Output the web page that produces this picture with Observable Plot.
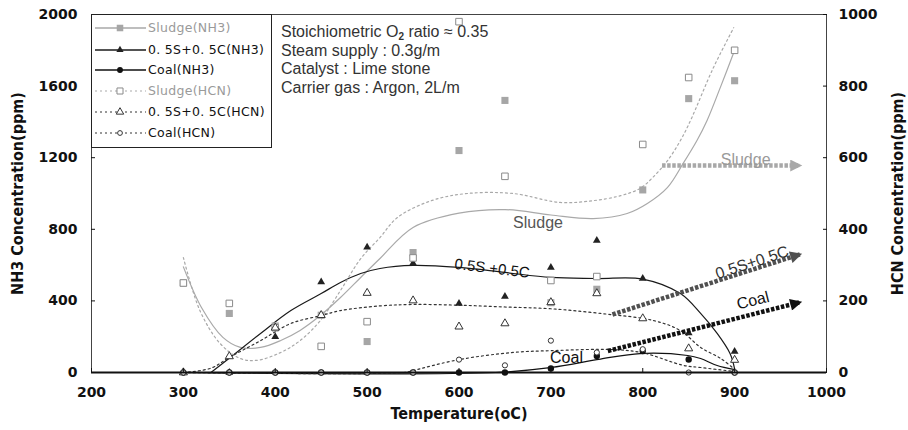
<!DOCTYPE html>
<html><head><meta charset="utf-8">
<script src="https://cdn.jsdelivr.net/npm/d3@7"></script>
<script src="https://cdn.jsdelivr.net/npm/@observablehq/plot@0.6"></script>
<style>
body{margin:0;background:#fff;}
#wrap{position:relative;width:908px;height:430px;overflow:hidden;}
#legend{position:absolute;left:91px;top:14px;width:181px;height:134px;border:1px solid #222;background:#fff;box-sizing:border-box;font-family:"DejaVu Sans",sans-serif;font-size:12.5px;letter-spacing:0.3px;}
#legend .row{position:absolute;left:0;height:16px;line-height:16px;white-space:nowrap;}
#legend .row svg{position:absolute;left:2px;top:0;}
#legend .row span{position:absolute;left:56px;top:0;}
#note{position:absolute;left:281px;top:23px;font-family:"Liberation Sans",Arial,sans-serif;font-size:16px;line-height:18.7px;color:#333;white-space:nowrap;}
#note sub{font-size:10px;line-height:0;vertical-align:-3px;font-weight:bold;}
g[aria-label="x-axis tick label"], g[aria-label="y-axis tick label"]{font:bold 14px "DejaVu Sans",sans-serif;fill:#111;}
g[aria-label="x-axis label"], g[aria-label="y-axis label"]{font-family:"DejaVu Sans Condensed","Liberation Sans Narrow","DejaVu Sans",sans-serif;font-stretch:condensed;font-weight:bold;font-size:16px;fill:#111;}
</style></head><body><div id="wrap"></div>
<script>
// ---- measured points ----
const temps = [300,350,400,450,500,550,600,650,700,750,800,850,900];
const sludgeNH3 = [500,330,260,320,173,670,1240,1520,390,465,1020,1530,1630];
const blendNH3  = [0,0,200,505,700,610,385,425,587,737,525,220,117];
const coalNH3   = [0,0,0,0,0,0,0,0,22,92,120,73,0];
const sludgeHCN = [250,193,125,73,142,320,980,548,257,268,637,824,900];
const blendHCN  = [0,45,125,160,222,201,128,137,196,221,151,67,35];
const coalHCN   = [0,0,0,0,0,0,36,20,89,56,65,0,0];

// ---- trend curves ----
const sludgeNH3FitT = [300,320,343,362,384,406,427,449,471,493,514,550,600,650,700,746,783,805,827,844,859,870,885,900];
const sludgeNH3FitV = [590,360,196,140,140,179,235,318,419,531,637,810,890,910,880,860,888,944,1034,1168,1296,1408,1600,1800];
const sludgeHCNFitT = [300,318,340,362,380,406,427,449,471,493,514,533,570,609,659,710,746,776,797,811,827,841,852,877,899];
const sludgeHCNFitV = [321,173,81,39,34,56,89,145,229,318,377,433,480,500,500,475,480,494,514,545,592,648,704,852,963];
const blendNH3FitT = [330,351,384,417,450,471,493,514,550,600,650,700,750,800,841,863,881,895,900];
const blendNH3FitV = [0,84,218,346,441,503,553,581,598,587,559,531,525,522,441,330,218,106,20];
const blendHCNFitT = [300,330,350,384,417,450,471,514,550,600,650,700,754,812,841,863,885,899];
const blendHCNFitV = [0,12,42,89,137,159,173,186,190,188,183,178,165,145,117,70,39,11];
const coalNH3FitT = [300,640,700,754,797,849,863,881,899];
const coalNH3FitV = [0,0,28,75,106,95,78,39,17];
const coalHCNFitT = [300,540,549,600,659,700,768,800,844,863,899];
const coalHCNFitV = [0,0,5,36,56,61,64,55,20,14,3];

// ---- ticks ----
const xTicks = [200,300,400,500,600,700,800,900,1000];
const nh3Ticks = [0,400,800,1200,1600,2000];
const hcnTicks = [0,200,400,600,800,1000];

// ---- annotations (HCN units for arrows) ----
const arrowNames = ["Sludge","0.5S+0.5C","Coal"];
const arrowFrom = [[821,578],[767,162],[762,60]];
const arrowTo   = [[971,578],[971,330],[971,196]];
const arrowLabelPos = [[912,595],[919,307],[920,201]];
const arrowLabelRotate = [0,-18,-14];
const curveLabels = ["Sludge","0.5S +0.5C","Coal"];
const curveLabelPos = [[686,838],[636,581],[717,84]];
const curveLabelRotate = [0,7,0];

const legendLabels = ["Sludge(NH3)","0. 5S+0. 5C(NH3)","Coal(NH3)","Sludge(HCN)","0. 5S+0. 5C(HCN)","Coal(HCN)"];
const noteLines = ['Stoichiometric O<sub>2</sub> ratio \u2248 0.35','Steam supply : 0.3g/m','Catalyst : Lime stone','Carrier gas : Argon, 2L/m'];

const K = 2; // HCN 1000 ppm aligns with NH3 2000 ppm

const series = [
  {vals: sludgeNH3, fitT: sludgeNH3FitT, fitV: sludgeNH3FitV, k:1, line:"#a9a9a9", dash:null, symbol:"square", r:4, fill:"#a6a6a6", stroke:"none", text:"#9a9a9a"},
  {vals: blendNH3, fitT: blendNH3FitT, fitV: blendNH3FitV, k:1, line:"#1a1a1a", dash:null, symbol:"triangle", r:2.9, fill:"#222", stroke:"none", text:"#111"},
  {vals: coalNH3, fitT: coalNH3FitT, fitV: coalNH3FitV, k:1, line:"#111", dash:null, symbol:"circle", r:3.2, fill:"#111", stroke:"none", text:"#111"},
  {vals: sludgeHCN, fitT: sludgeHCNFitT, fitV: sludgeHCNFitV, k:K, line:"#a9a9a9", dash:"2,3", symbol:"square", r:3.7, fill:"#fff", stroke:"#8a8a8a", text:"#9a9a9a"},
  {vals: blendHCN, fitT: blendHCNFitT, fitV: blendHCNFitV, k:K, line:"#333", dash:"2,3", symbol:"triangle", r:3, fill:"#fff", stroke:"#333", text:"#111"},
  {vals: coalHCN, fitT: coalHCNFitT, fitV: coalHCNFitV, k:K, line:"#333", dash:"2,3", symbol:"circle", r:2.6, fill:"#fff", stroke:"#333", text:"#111"}
];

function headMarker(color) {
  const m = d3.create("svg:marker")
    .attr("viewBox","0 -5 10 10")
    .attr("markerWidth",13).attr("markerHeight",12)
    .attr("markerUnits","userSpaceOnUse")
    .attr("refX",8).attr("refY",0)
    .attr("orient","auto");
  m.append("path").attr("d","M0,-5L10,0L0,5Z").attr("fill",color).attr("stroke","none");
  return m.node();
}

const marks = [];
series.forEach(s => {
  const fit = s.fitT.map((t,i)=>({T:t, y:s.fitV[i]*s.k}));
  marks.push(Plot.line(fit, {x:"T", y:"y", curve:"catmull-rom", stroke:s.line, strokeWidth:1.2, strokeDasharray:s.dash}));
});
series.forEach(s => {
  const pts = temps.map((t,i)=>({T:t, y:s.vals[i]*s.k}));
  marks.push(Plot.dot(pts, {x:"T", y:"y", symbol:s.symbol, r:s.r, fill:s.fill, stroke:s.stroke, strokeWidth:1}));
});
const arrowColors = ["#a8a8a8","#505050","#111"];
const arrowTextColors = ["#9a9a9a","#333","#111"];
arrowNames.forEach((n,i)=>{
  marks.push(Plot.link([i], {x1:()=>arrowFrom[i][0], y1:()=>arrowFrom[i][1]*K, x2:()=>arrowTo[i][0], y2:()=>arrowTo[i][1]*K,
    stroke:arrowColors[i], strokeWidth:4.5, strokeDasharray:"3.5,1.6", markerEnd:(c)=>headMarker(arrowColors[i])}));
  marks.push(Plot.text([n], {x:()=>arrowLabelPos[i][0], y:()=>arrowLabelPos[i][1]*K, text:d=>d, rotate:arrowLabelRotate[i],
    fill:arrowTextColors[i], fontSize:16, fontFamily:"Liberation Sans, Arial, sans-serif"}));
});
curveLabels.forEach((n,i)=>{
  marks.push(Plot.text([n], {x:()=>curveLabelPos[i][0], y:()=>curveLabelPos[i][1], text:d=>d, rotate:curveLabelRotate[i],
    fill: i===0 ? "#555" : "#111", fontSize: i===1 ? 15 : 16, fontFamily:"Liberation Sans, Arial, sans-serif"}));
});

const chart = Plot.plot({
  width: 908, height: 430,
  marginLeft: 91, marginRight: 82, marginTop: 14, marginBottom: 58,
  style: {background:"#fff", color:"#111", overflow:"visible"},
  x: {domain:[200,1000]},
  y: {domain:[0,2000]},
  marks: [
    Plot.frame({stroke:"#444"}),
    ...marks,
    Plot.ruleY([0], {stroke:"#111", strokeWidth:2}),
    Plot.axisX({ticks:xTicks, tickFormat:d=>String(d), tickSize:-4, tickPadding:19, label:"Temperature(oC)", labelAnchor:"center", labelOffset:46, labelArrow:"none"}),
    Plot.axisY({anchor:"left", ticks:nh3Ticks, tickFormat:d=>String(d), tickSize:-4, tickPadding:18, label:"NH3 Concentration(ppm)", labelAnchor:"center", labelOffset:80, labelArrow:"none"}),
    Plot.axisY({anchor:"right", ticks:hcnTicks.map(v=>v*K), tickFormat:d=>String(d/K), tickSize:-4, tickPadding:16, label:"HCN Concentration(ppm)", labelAnchor:"center", labelOffset:76, labelArrow:"none"})
  ]
});

const wrap = document.getElementById("wrap");
wrap.appendChild(chart);

// legend
const legend = document.createElement("div");
legend.id = "legend";
const centers = [13,35,55,76,97,118];
series.forEach((s,i)=>{
  const row = document.createElement("div");
  row.className = "row";
  row.style.top = (centers[i]-8)+"px";
  row.style.width = "178px";
  const svg = d3.create("svg").attr("width",54).attr("height",16);
  svg.append("line").attr("x1",1).attr("x2",52).attr("y1",8).attr("y2",8)
    .attr("stroke",s.line).attr("stroke-width",s.dash?1:1.6).attr("stroke-dasharray",s.dash);
  const sym = {square:d3.symbolSquare, triangle:d3.symbolTriangle, circle:d3.symbolCircle}[s.symbol];
  svg.append("path").attr("transform","translate(26,8)")
    .attr("d", d3.symbol(sym, Math.PI*s.r*s.r*0.85)())
    .attr("fill", s.fill).attr("stroke", s.stroke);
  row.appendChild(svg.node());
  const sp = document.createElement("span");
  sp.textContent = legendLabels[i];
  sp.style.color = s.text;
  row.appendChild(sp);
  legend.appendChild(row);
});
wrap.appendChild(legend);

const note = document.createElement("div");
note.id = "note";
note.innerHTML = noteLines.join("<br>");
wrap.appendChild(note);
</script>
</body></html>
